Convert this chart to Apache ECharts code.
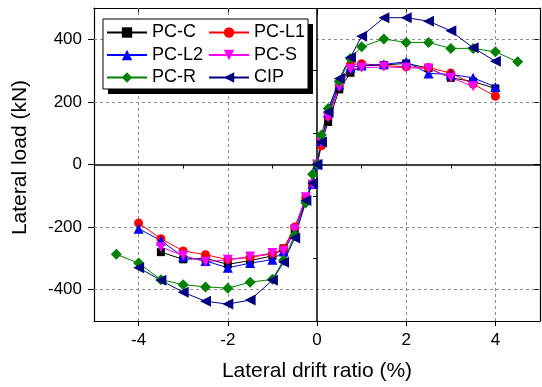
<!DOCTYPE html>
<html>
<head>
<meta charset="utf-8">
<script src="https://cdn.jsdelivr.net/npm/echarts@6/dist/echarts.min.js"></script>
<style>html,body{margin:0;padding:0;background:#fff;}#c{width:542px;height:387px;}</style>
</head>
<body>
<div id="c"></div>
<script>
// ---- data ----
const drift  = [-4,-3.5,-3,-2.5,-2,-1.5,-1,-0.75,-0.5,-0.25,-0.1,0,0.1,0.25,0.5,0.75,1,1.5,2,2.5,3,3.5,4];
const driftR = [-4.5,-4,-3.5,-3,-2.5,-2,-1.5,-1,-0.75,-0.5,-0.25,-0.1,0,0.1,0.25,0.5,0.75,1,1.5,2,2.5,3,3.5,4,4.5];
const pcC  = [null,-280,-303,-300,-319,-307,-292,-268,-207,-108,-62,0,68,136,240,293,315,318,323,308,277,265,243];
const pcL1 = [-187,-237,-276,-288,-304,-297,-285,-268,-200,-106,-64,0,60,155,252,319,322,316,312,310,292,257,218];
const pcL2 = [-205,-243,-295,-308,-330,-315,-304,-278,-215,-110,-62,0,75,165,255,310,316,320,328,291,288,277,248];
const pcS  = [null,-264,-291,-311,-304,-294,-283,-277,-208,-105,-65,0,70,150,248,305,309,312,309,307,277,250,null];
const pcR  = [-287,-315,-368,-384,-391,-395,-376,-367,-306,-226,-122,-31,0,94,179,266,339,376,401,390,390,371,371,360,328];
const cip  = [-330,-370,-408,-437,-446,-433,-370,-312,-235,-115,-59,0,72,168,275,342,410,469,469,458,427,373,330];

const xMajor = [-4,-2,0,2,4];
const xMinor = [-5,-3,-1,1,3,5];
const yMajor = [-400,-200,0,200,400];
const yMinor = [-500,-300,-100,100,300,500];
const xGrid = [-4,-2,2,4];
const yGrid = [-400,-200,200,400];

const FONT = "'Liberation Sans', Arial, sans-serif";

function pairs(xs, ys){ const out=[]; for(let i=0;i<xs.length;i++){ if(ys[i]!==null) out.push([xs[i], ys[i]]); } return out; }
function mk(name, xs, ys, color, symbol, size, rot){
  return {type:'line', name:name, data:pairs(xs,ys), xAxisIndex:0, yAxisIndex:0, z:5,
    symbol:symbol, symbolSize:size, symbolRotate:rot||0, showAllSymbol:true,
    lineStyle:{color:color,width:1}, itemStyle:{color:color, borderWidth:0}, animation:false};
}

function xAx(pos, ticks, len, inside, opts){
  return Object.assign({type:'value', position:pos, min:-5, max:5, interval:1, gridIndex:0,
    axisLine:{show:false}, splitLine:{show:false},
    axisTick:{show:true, customValues:ticks, length:len, inside:inside, lineStyle:{color:'#000',width:1}},
    axisLabel:{show:false}}, opts||{});
}
function yAx(pos, ticks, len, inside, opts){
  return Object.assign({type:'value', position:pos, min:-500, max:500, interval:100, gridIndex:0,
    axisLine:{show:false}, splitLine:{show:false},
    axisTick:{show:true, customValues:ticks, length:len, inside:inside, lineStyle:{color:'#000',width:1}},
    axisLabel:{show:false}}, opts||{});
}

const chart = echarts.init(document.getElementById('c'), null, {renderer:'canvas'});
const gridLines = [];
xGrid.forEach(v=>gridLines.push({xAxis:v}));
yGrid.forEach(v=>gridLines.push({yAxis:v}));
gridLines.push({xAxis:0, lineStyle:{type:'solid', color:'#000', width:1.5}});
gridLines.push({yAxis:0, lineStyle:{type:'solid', color:'#000', width:1.5}});

const legendBase = {orient:'vertical', top:23.5, padding:0, itemWidth:40, itemHeight:13, itemGap:4.5, z:60,
  textStyle:{fontSize:18, lineHeight:18, color:'#000', fontFamily:FONT}, selectedMode:false};

const option = {
  animation:false,
  grid:{left:94, right:2, top:8, bottom:66},
  xAxis:[
    xAx('bottom', xMajor, 5, false, {
      axisLine:{show:true, onZero:false, lineStyle:{color:'#000',width:1.2}},
      axisLabel:{show:true, customValues:xMajor, margin:11, fontSize:17, color:'#000', fontFamily:FONT},
      name:'Lateral drift ratio (%)', nameLocation:'middle', nameGap:40,
      nameTextStyle:{fontSize:21, color:'#000', fontFamily:FONT}}),
    xAx('bottom', xMinor, 3, false),
    xAx('top', xMajor, 7, true, {axisLine:{show:true, onZero:false, lineStyle:{color:'#000',width:1.2}}}),
    xAx('top', xMinor, 4, true)
  ],
  yAxis:[
    yAx('left', yMajor, 6, false, {
      axisLine:{show:true, onZero:false, lineStyle:{color:'#000',width:1.2}},
      axisLabel:{show:true, customValues:yMajor, margin:12, fontSize:17, color:'#000', fontFamily:FONT},
      name:'Lateral load (kN)', nameLocation:'middle', nameGap:63, nameRotate:90,
      nameTextStyle:{fontSize:21, color:'#000', fontFamily:FONT, padding:[0,0,0,14]}}),
    yAx('left', yMinor, 4, false),
    yAx('right', yMajor, 6, true, {axisLine:{show:true, onZero:false, lineStyle:{color:'#000',width:1.2}}}),
    yAx('right', yMinor, 4, true)
  ],
  legend:[
    Object.assign({data:['PC-C','PC-L2','PC-R'], left:106}, legendBase),
    Object.assign({data:['PC-L1','PC-S','CIP'], left:208}, legendBase)
  ],
  graphic:[
    {type:'rect', z:50, shape:{x:108, y:24, width:205, height:70}, style:{fill:'#000'}},
    {type:'rect', z:51, shape:{x:103, y:19, width:205, height:70}, style:{fill:'#fff', stroke:'#000', lineWidth:1}}
  ],
  series:[
    {type:'line', data:[], xAxisIndex:0, yAxisIndex:0, silent:true,
     markLine:{z:1, silent:true, symbol:'none', label:{show:false}, animation:false,
       lineStyle:{type:[3,3], color:'#8c8c8c', width:1}, data:gridLines}},
    mk('PC-C', drift, pcC, '#000000', 'rect', 8),
    mk('PC-L1', drift, pcL1, '#ff0000', 'circle', 9),
    mk('PC-L2', drift, pcL2, '#0000ff', 'triangle', 10),
    mk('PC-S', drift, pcS, '#ff00ff', 'triangle', 10, 180),
    mk('PC-R', driftR, pcR, '#008000', 'diamond', 11),
    mk('CIP', drift, cip, '#000080', 'triangle', 11, 90)
  ]
};
chart.setOption(option);
</script>
</body>
</html>
